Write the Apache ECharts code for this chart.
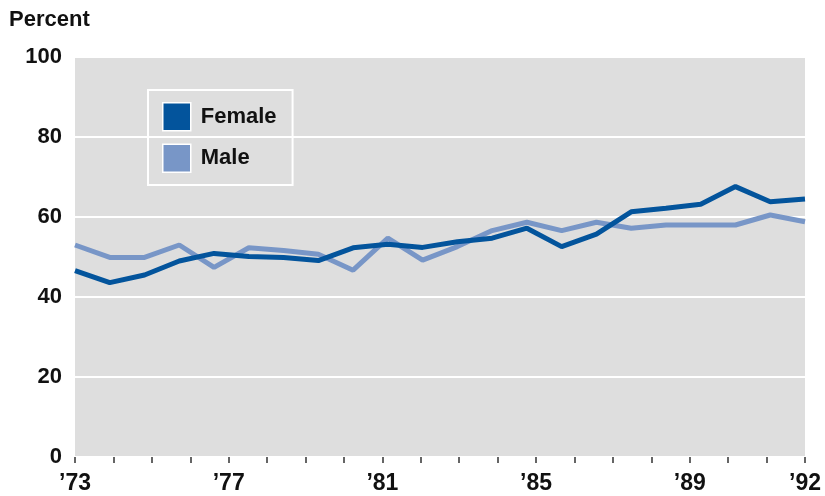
<!DOCTYPE html>
<html>
<head>
<meta charset="utf-8">
<script src="https://cdn.jsdelivr.net/npm/echarts@6/dist/echarts.min.js"></script>
<style>
html,body{margin:0;padding:0;background:#fff;}
#chart{width:825px;height:496px;}
</style>
</head>
<body>
<div id="chart"></div>
<script>
var years = ['1973','1974','1975','1976','1977','1978','1979','1980','1981','1982','1983','1984','1985','1986','1987','1988','1989','1990','1991','1992'];
var tickLabels = {'1973':'\u201973','1977':'\u201977','1981':'\u201981','1985':'\u201985','1989':'\u201989','1992':'\u201992'};
var samplePoints = ['1','2','3','4','5','6','7','8','9','10','11','12','13','14','15','16','17','18','19','20','21','22'];
var female = [46.6,43.6,45.5,49.0,50.9,50.1,49.9,49.1,52.3,53.2,52.4,53.8,54.7,57.2,52.6,55.7,61.3,62.2,63.2,67.6,63.8,64.5];
var male = [53.0,49.9,49.9,53.0,47.4,52.3,51.6,50.7,46.7,54.7,49.2,52.6,56.6,58.7,56.6,58.7,57.2,58.0,58.0,58.0,60.5,58.8];

var FONT = '"Liberation Sans", Arial, sans-serif';
var chart = echarts.init(document.getElementById('chart'), null, {renderer:'canvas'});
chart.setOption({
  animation: false,
  backgroundColor: '#ffffff',
  title: {
    text: 'Percent', left: 4, top: 4,
    textStyle: {fontFamily: FONT, fontSize: 22, fontWeight: 'bold', color: '#111'}
  },
  legend: {
    left: 148, top: 90,
    orient: 'vertical',
    icon: 'rect',
    itemWidth: 28, itemHeight: 28, itemGap: 12,
    padding: [12, 16, 12, 14],
    borderColor: '#ffffff', borderWidth: 2,
    itemStyle: {borderColor: '#ffffff', borderWidth: 1.5},
    textStyle: {fontFamily: FONT, fontSize: 22, fontWeight: 'bold', color: '#111', padding: [0,0,0,5]},
    data: ['Female', 'Male']
  },
  grid: {
    left: 75, right: 20, top: 57, bottom: 39,
    show: true, backgroundColor: '#dedede', borderWidth: 0
  },
  xAxis: [
    {
      type: 'category', data: samplePoints, boundaryGap: false, show: false
    },
    {
      type: 'category', data: years, boundaryGap: false, position: 'bottom',
      axisLine: {show: false},
      axisTick: {show: true, interval: 0, length: 6, alignWithLabel: true, lineStyle: {color: '#333', width: 1.5}},
      axisLabel: {
        interval: 0, margin: 15,
        fontFamily: FONT, fontSize: 23, fontWeight: 'bold', color: '#111',
        formatter: function(v){ return tickLabels[v] || ''; }
      },
      splitLine: {show: false}
    }
  ],
  yAxis: {
    type: 'value', min: 0, max: 100, interval: 20,
    axisLine: {show: false}, axisTick: {show: false},
    axisLabel: {margin: 13, fontFamily: FONT, fontSize: 22, fontWeight: 'bold', color: '#111'},
    splitLine: {show: true, lineStyle: {color: '#ffffff', width: 2}}
  },
  series: [
    {
      name: 'Male', type: 'line', xAxisIndex: 0, data: male,
      symbol: 'none', lineStyle: {width: 5, color: '#7896c7'},
      itemStyle: {color: '#7896c7'}
    },
    {
      name: 'Female', type: 'line', xAxisIndex: 0, data: female,
      symbol: 'none', lineStyle: {width: 5, color: '#03549c'},
      itemStyle: {color: '#03549c'}
    }
  ]
});
</script>
</body>
</html>
